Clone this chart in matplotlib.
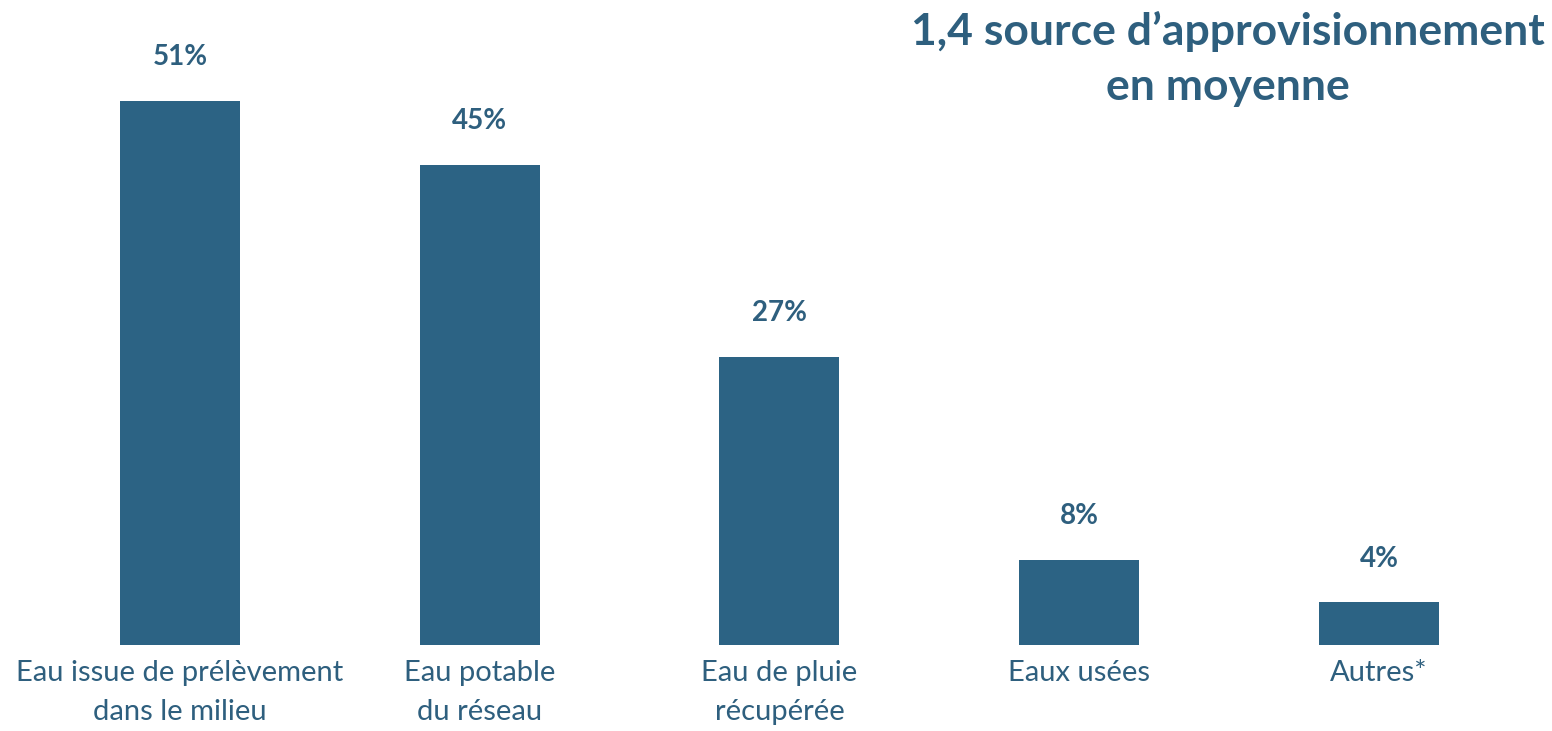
import numpy as np
import matplotlib.pyplot as plt

plt.rcParams['font.family'] = ['Lato', 'DejaVu Sans']

BAR_COLOR = '#2C6384'
TEXT_COLOR = '#2E5F7E'

categories = ['Eau issue de prélèvement\ndans le milieu', 'Eau potable\ndu réseau',
              'Eau de pluie\nrécupérée', 'Eaux usées', 'Autres*']
values = [51, 45, 27, 8, 4]
title = '1,4 source d\u2019approvisionnement\nen moyenne'

fig = plt.figure(figsize=(15.52, 7.31), dpi=100)
ax = fig.add_axes([0, 0.1176, 1, 0.8824])

x = np.arange(len(categories))
bars = ax.bar(x, values, width=0.4, color=BAR_COLOR)

for rect, v in zip(bars, values):
    ax.annotate(f'{v}%', (rect.get_x() + rect.get_width() / 2, v),
                xytext=(0, 22), textcoords='offset points',
                ha='center', va='bottom', fontsize=20, fontweight='bold',
                color=TEXT_COLOR)

ax.set_xlim(-0.6, 4.577)
ax.set_ylim(0, 60.45)
ax.set_xticks(x)
ax.set_xticklabels(categories, fontsize=21, color=TEXT_COLOR, linespacing=1.6)
ax.tick_params(axis='x', length=0, pad=11)
ax.set_yticks([])
for s in ax.spines.values():
    s.set_visible(False)

fig.text(0.791, 0.985, title, ha='center', va='top', fontsize=32,
         fontweight='bold', color=TEXT_COLOR, linespacing=1.45)

fig.savefig('out.png', dpi=100)
